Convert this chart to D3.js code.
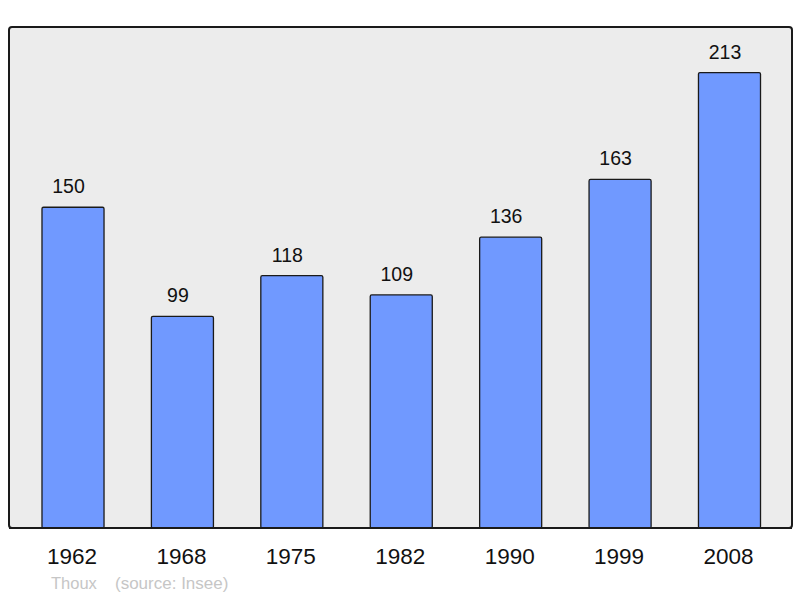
<!DOCTYPE html>
<html>
<head>
<meta charset="utf-8">
<script src="https://cdn.jsdelivr.net/npm/d3@7"></script>
<style>
  body { margin: 0; background: #fff; }
  svg { display: block; font-family: "Liberation Sans", Arial, sans-serif; }
</style>
</head>
<body>
<div id="chart"></div>
<script>
var years = ['1962', '1968', '1975', '1982', '1990', '1999', '2008'];
var population = [150, 99, 118, 109, 136, 163, 213];
var commune = 'Thoux';
var source = '(source: Insee)';

var width = 800, height = 598;
var frame = { left: 9, top: 27, right: 792, bottom: 528 };

var svg = d3.select('#chart').append('svg')
    .attr('width', width)
    .attr('height', height);

svg.append('rect')
    .attr('x', frame.left)
    .attr('y', frame.top)
    .attr('width', frame.right - frame.left)
    .attr('height', frame.bottom - frame.top)
    .attr('rx', 3)
    .attr('fill', '#ececec')
    .attr('stroke', '#1a1a1a')
    .attr('stroke-width', 2);

var x = d3.scaleBand().domain(years).range([18.3, 784.2])
    .paddingInner(0.433).paddingOuter(0.2165);
var y = d3.scaleLinear().domain([0, d3.max(population) * 1.1]).range([frame.bottom, frame.top]);

var bars = svg.append('g').attr('class', 'bars');
bars.selectAll('rect').data(population).enter().append('rect')
    .attr('x', function (d, i) { return x(years[i]); })
    .attr('y', function (d) { return y(d); })
    .attr('width', x.bandwidth())
    .attr('height', function (d) { return frame.bottom - y(d); })
    .attr('rx', 1.5)
    .attr('fill', '#7099ff')
    .attr('stroke', '#1a1a1a')
    .attr('stroke-width', 1.3);

bars.selectAll('text').data(population).enter().append('text')
    .attr('x', function (d, i) { return x(years[i]) + x.bandwidth() / 2 - 4.5; })
    .attr('y', function (d) { return y(d) - 14; })
    .attr('text-anchor', 'middle')
    .attr('font-size', 19.5)
    .attr('fill', '#111')
    .text(function (d) { return d; });

// redraw the frame bottom over the bars
svg.append('line')
    .attr('x1', frame.left).attr('x2', frame.right)
    .attr('y1', frame.bottom).attr('y2', frame.bottom)
    .attr('stroke', '#1a1a1a').attr('stroke-width', 2);

svg.append('g').selectAll('text').data(years).enter().append('text')
    .attr('x', function (d) { return x(d) + x.bandwidth() / 2 - 1; })
    .attr('y', 564)
    .attr('text-anchor', 'middle')
    .attr('font-size', 22.5)
    .attr('fill', '#111')
    .text(function (d) { return d; });

svg.append('text')
    .attr('x', 51).attr('y', 589)
    .attr('font-size', 16.5)
    .attr('fill', '#c6c6c6')
    .text(commune);
svg.append('text')
    .attr('x', 115).attr('y', 589)
    .attr('font-size', 17)
    .attr('fill', '#c6c6c6')
    .text(source);
</script>
</body>
</html>
